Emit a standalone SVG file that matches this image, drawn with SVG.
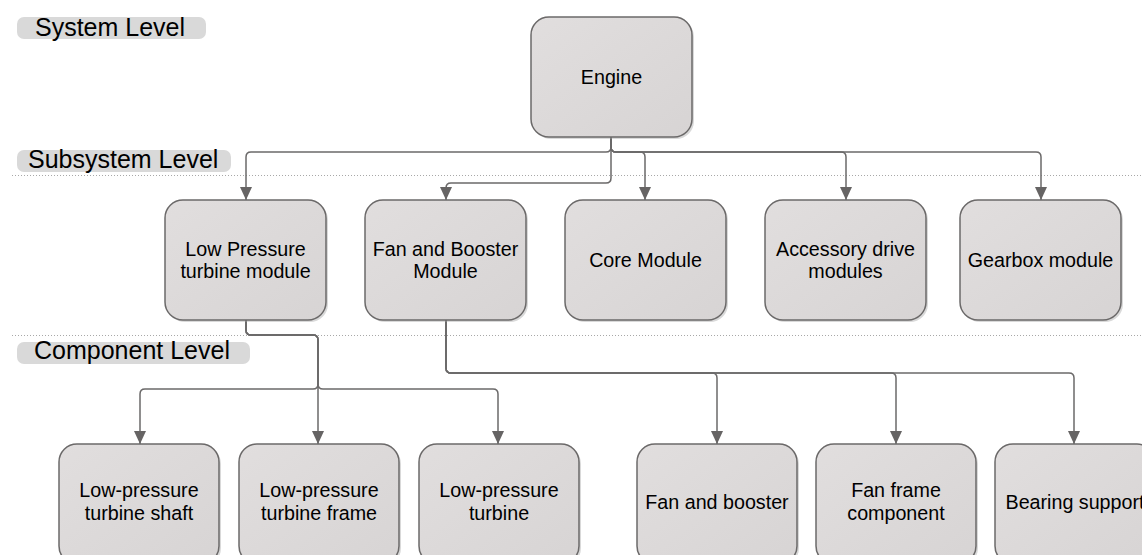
<svg xmlns="http://www.w3.org/2000/svg" width="1142" height="555" viewBox="0 0 1142 555">
  <defs>
    <linearGradient id="boxFill" x1="0" y1="0" x2="1" y2="1">
      <stop offset="0" stop-color="#e1dede"/>
      <stop offset="1" stop-color="#d7d4d4"/>
    </linearGradient>
    <marker id="arrow" markerUnits="userSpaceOnUse" markerWidth="14" markerHeight="14" viewBox="0 0 14 14" refX="13" refY="7" orient="auto">
      <path d="M0,1 L13,7 L0,13 Z" fill="#666464"/>
    </marker>
  </defs>
  <style>
    .bg { fill: #ffffff; }
    .tier { stroke: #a8a8a8; stroke-width: 1; stroke-dasharray: 1 2; fill: none; }
    .pill { fill: #d9d9d9; }
    .pill-text { font-family: "Liberation Sans", Arial, sans-serif; font-size: 25px; fill: #000; }
    .shadow { fill: #a0a0a0; opacity: 0.4; }
    .box { fill: url(#boxFill); stroke: #6b6969; stroke-width: 1.5; }
    .label { font-family: "Liberation Sans", Arial, sans-serif; font-size: 19.7px; fill: #000; text-anchor: middle; }
    .wire { fill: none; stroke: #6b6969; stroke-width: 1.5; marker-end: url(#arrow); }
  </style>

  <rect class="bg" x="0" y="0" width="1142" height="555"/>

  <!-- tier separators -->
  <g id="tiers">
    <line class="tier" x1="12" y1="175.5" x2="1142" y2="175.5"/>
    <line class="tier" x1="12" y1="335.5" x2="1142" y2="335.5"/>
  </g>

  <!-- tier labels -->
  <g id="label-system">
    <rect class="pill" x="17" y="17" width="189" height="22" rx="7"/>
    <text class="pill-text" x="35" y="36">System Level</text>
  </g>
  <g id="label-subsystem">
    <rect class="pill" x="17" y="150" width="214" height="22" rx="7"/>
    <text class="pill-text" x="28" y="168">Subsystem Level</text>
  </g>
  <g id="label-component">
    <rect class="pill" x="17" y="342" width="233" height="22" rx="7"/>
    <text class="pill-text" x="34" y="359">Component Level</text>
  </g>

  <!-- connectors -->
  <g id="connectors">
    <path class="wire" d="M611,137 V147 Q611,152 606,152 H251 Q246,152 246,157 V200"/>
    <path class="wire" d="M611,137 V178 Q611,183 606,183 H451 Q446,183 446,188 V200"/>
    <path class="wire" d="M611,137 V147 Q611,152 616,152 H640 Q645,152 645,157 V200"/>
    <path class="wire" d="M611,137 V147 Q611,152 616,152 H841 Q846,152 846,157 V200"/>
    <path class="wire" d="M611,137 V147 Q611,152 616,152 H1036 Q1041,152 1041,157 V200"/>

    <path class="wire" d="M246,320 V330 Q246,335 251,335 H313 Q318,335 318,340 V384 Q318,389 313,389 H145 Q140,389 140,394 V444"/>
    <path class="wire" d="M246,320 V330 Q246,335 251,335 H313 Q318,335 318,340 V444"/>
    <path class="wire" d="M246,320 V330 Q246,335 251,335 H313 Q318,335 318,340 V384 Q318,389 323,389 H493 Q498,389 498,394 V444"/>

    <path class="wire" d="M446,320 V368 Q446,373 451,373 H712 Q717,373 717,378 V444"/>
    <path class="wire" d="M446,320 V368 Q446,373 451,373 H891 Q896,373 896,378 V444"/>
    <path class="wire" d="M446,320 V368 Q446,373 451,373 H1069 Q1074,373 1074,378 V444"/>
  </g>

  <!-- system level -->
  <g id="node-engine">
    <rect class="shadow" x="533" y="19" width="161" height="120" rx="18"/>
    <rect class="box" x="531" y="17" width="161" height="120" rx="18"/>
    <text class="label" x="611.5" y="84">Engine</text>
  </g>

  <!-- subsystem level -->
  <g id="node-lp-turbine-module">
    <rect class="shadow" x="167" y="202" width="161" height="120" rx="18"/>
    <rect class="box" x="165" y="200" width="161" height="120" rx="18"/>
    <text class="label" x="245.5" y="256">Low Pressure</text>
    <text class="label" x="245.5" y="278">turbine module</text>
  </g>
  <g id="node-fan-booster-module">
    <rect class="shadow" x="367" y="202" width="161" height="120" rx="18"/>
    <rect class="box" x="365" y="200" width="161" height="120" rx="18"/>
    <text class="label" x="445.5" y="256">Fan and Booster</text>
    <text class="label" x="445.5" y="278">Module</text>
  </g>
  <g id="node-core-module">
    <rect class="shadow" x="567" y="202" width="161" height="120" rx="18"/>
    <rect class="box" x="565" y="200" width="161" height="120" rx="18"/>
    <text class="label" x="645.5" y="267">Core Module</text>
  </g>
  <g id="node-accessory-drive">
    <rect class="shadow" x="767" y="202" width="161" height="120" rx="18"/>
    <rect class="box" x="765" y="200" width="161" height="120" rx="18"/>
    <text class="label" x="845.5" y="256">Accessory drive</text>
    <text class="label" x="845.5" y="278">modules</text>
  </g>
  <g id="node-gearbox-module">
    <rect class="shadow" x="962" y="202" width="161" height="120" rx="18"/>
    <rect class="box" x="960" y="200" width="161" height="120" rx="18"/>
    <text class="label" x="1040.5" y="267">Gearbox module</text>
  </g>

  <!-- component level -->
  <g id="node-lp-turbine-shaft">
    <rect class="shadow" x="61" y="446" width="160" height="120" rx="18"/>
    <rect class="box" x="59" y="444" width="160" height="120" rx="18"/>
    <text class="label" x="139" y="497">Low-pressure</text>
    <text class="label" x="139" y="520">turbine shaft</text>
  </g>
  <g id="node-lp-turbine-frame">
    <rect class="shadow" x="241" y="446" width="160" height="120" rx="18"/>
    <rect class="box" x="239" y="444" width="160" height="120" rx="18"/>
    <text class="label" x="319" y="497">Low-pressure</text>
    <text class="label" x="319" y="520">turbine frame</text>
  </g>
  <g id="node-lp-turbine">
    <rect class="shadow" x="421" y="446" width="160" height="120" rx="18"/>
    <rect class="box" x="419" y="444" width="160" height="120" rx="18"/>
    <text class="label" x="499" y="497">Low-pressure</text>
    <text class="label" x="499" y="520">turbine</text>
  </g>
  <g id="node-fan-and-booster">
    <rect class="shadow" x="639" y="446" width="160" height="120" rx="18"/>
    <rect class="box" x="637" y="444" width="160" height="120" rx="18"/>
    <text class="label" x="717" y="509">Fan and booster</text>
  </g>
  <g id="node-fan-frame">
    <rect class="shadow" x="818" y="446" width="160" height="120" rx="18"/>
    <rect class="box" x="816" y="444" width="160" height="120" rx="18"/>
    <text class="label" x="896" y="497">Fan frame</text>
    <text class="label" x="896" y="520">component</text>
  </g>
  <g id="node-bearing-support">
    <rect class="shadow" x="997" y="446" width="160" height="120" rx="18"/>
    <rect class="box" x="995" y="444" width="160" height="120" rx="18"/>
    <text class="label" x="1075" y="509">Bearing support</text>
  </g>
</svg>
